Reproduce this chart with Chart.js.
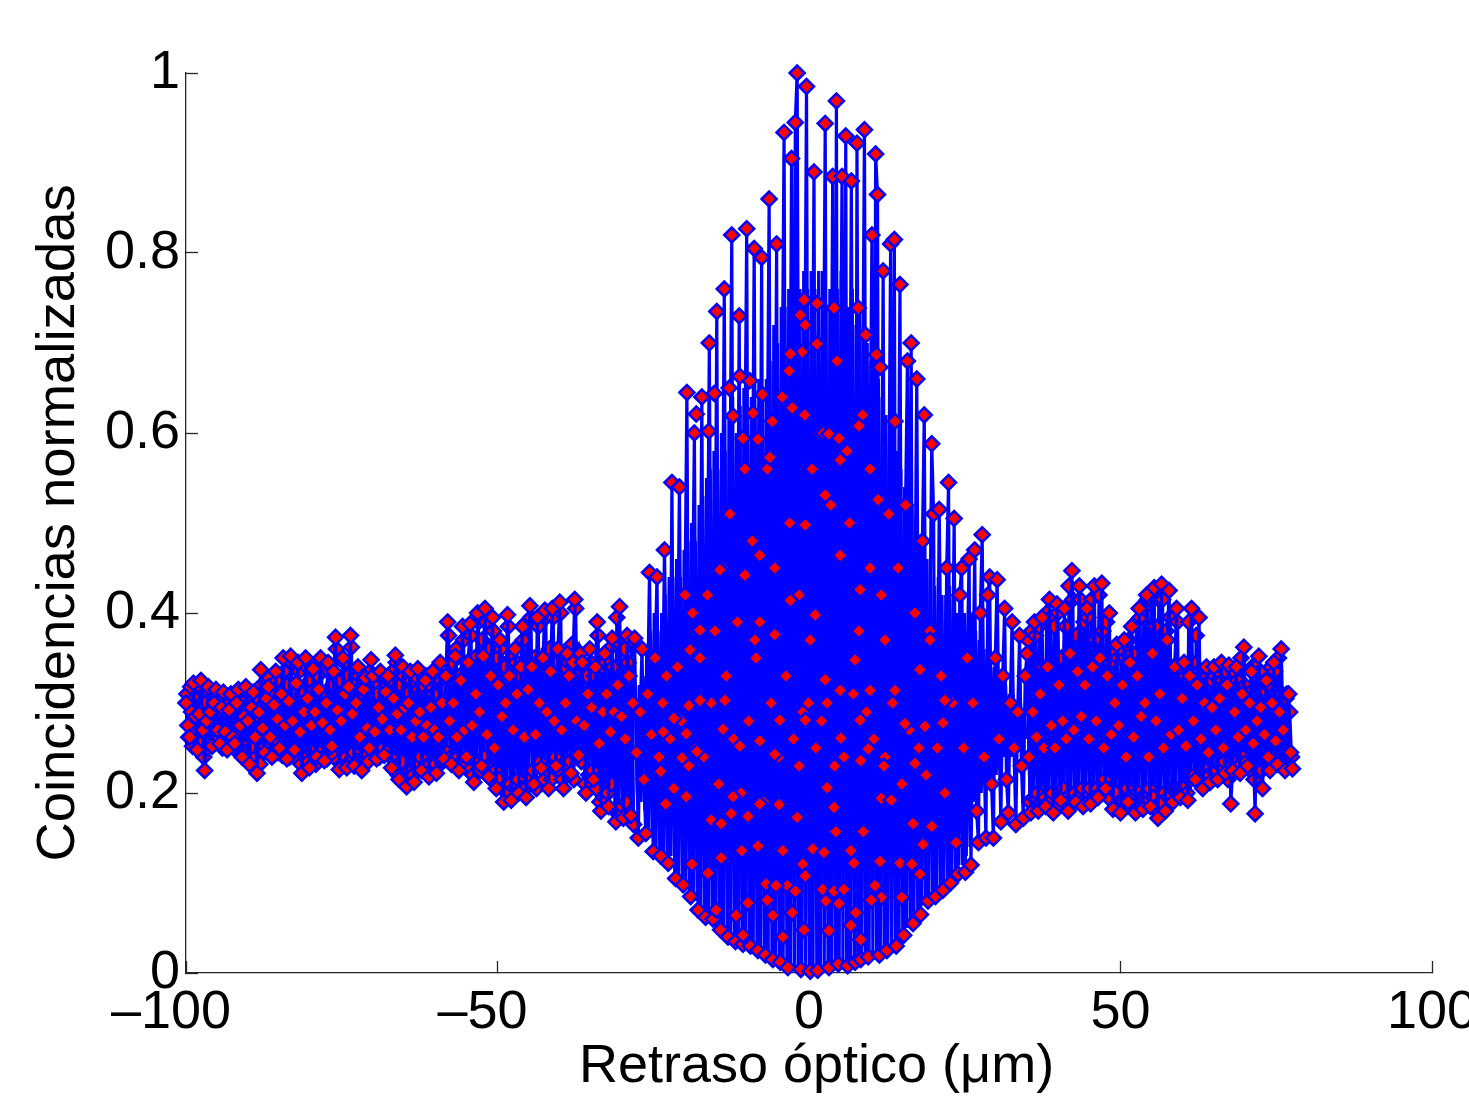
<!DOCTYPE html>
<html>
<head>
<meta charset="utf-8">
<title>Coincidencias</title>
<script src="https://cdn.jsdelivr.net/npm/chart.js@4/dist/chart.umd.min.js"></script>
<style>
  html, body { margin: 0; padding: 0; background: #fff; }
  canvas { display: block; }
</style>
</head>
<body>
<canvas id="myChart" width="1469" height="1115"></canvas>
<script>
// Retraso óptico (um)
const retraso = [
-100,-99.7,-99.4,-99.1,-98.8,-98.5,-98.2,-97.9,-97.6,-97.3,
-97,-96.7,-96.4,-96.1,-95.8,-95.5,-95.2,-94.9,-94.6,-94.3,
-94,-93.7,-93.4,-93.1,-92.8,-92.5,-92.2,-91.9,-91.6,-91.3,
-91,-90.7,-90.4,-90.1,-89.8,-89.5,-89.2,-88.9,-88.6,-88.3,
-88,-87.7,-87.4,-87.1,-86.8,-86.5,-86.2,-85.9,-85.6,-85.3,
-85,-84.7,-84.4,-84.1,-83.8,-83.5,-83.2,-82.9,-82.6,-82.3,
-82,-81.7,-81.4,-81.1,-80.8,-80.5,-80.2,-79.9,-79.6,-79.3,
-79,-78.7,-78.4,-78.1,-77.8,-77.5,-77.2,-76.9,-76.6,-76.3,
-76,-75.7,-75.4,-75.1,-74.8,-74.5,-74.2,-73.9,-73.6,-73.3,
-73,-72.7,-72.4,-72.1,-71.8,-71.5,-71.2,-70.9,-70.6,-70.3,
-70,-69.7,-69.4,-69.1,-68.8,-68.5,-68.2,-67.9,-67.6,-67.3,
-67,-66.7,-66.4,-66.1,-65.8,-65.5,-65.2,-64.9,-64.6,-64.3,
-64,-63.7,-63.4,-63.1,-62.8,-62.5,-62.2,-61.9,-61.6,-61.3,
-61,-60.7,-60.4,-60.1,-59.8,-59.5,-59.2,-58.9,-58.6,-58.3,
-58,-57.7,-57.4,-57.1,-56.8,-56.5,-56.2,-55.9,-55.6,-55.3,
-55,-54.7,-54.4,-54.1,-53.8,-53.5,-53.2,-52.9,-52.6,-52.3,
-52,-51.7,-51.4,-51.1,-50.8,-50.5,-50.2,-49.9,-49.6,-49.3,
-49,-48.7,-48.4,-48.1,-47.8,-47.5,-47.2,-46.9,-46.6,-46.3,
-46,-45.7,-45.4,-45.1,-44.8,-44.5,-44.2,-43.9,-43.6,-43.3,
-43,-42.7,-42.4,-42.1,-41.8,-41.5,-41.2,-40.9,-40.6,-40.3,
-40,-39.7,-39.4,-39.1,-38.8,-38.5,-38.2,-37.9,-37.6,-37.3,
-37,-36.7,-36.4,-36.1,-35.8,-35.5,-35.2,-34.9,-34.6,-34.3,
-34,-33.7,-33.4,-33.1,-32.8,-32.5,-32.2,-31.9,-31.6,-31.3,
-31,-30.7,-30.4,-30.1,-29.8,-29.5,-29.2,-28.9,-28.6,-28.3,
-28,-27.7,-27.4,-27.1,-26.8,-26.5,-26.2,-25.9,-25.6,-25.3,
-25,-24.7,-24.4,-24.1,-23.8,-23.5,-23.2,-22.9,-22.6,-22.3,
-22,-21.7,-21.4,-21.1,-20.8,-20.5,-20.2,-19.9,-19.6,-19.3,
-19,-18.7,-18.4,-18.1,-17.8,-17.5,-17.2,-16.9,-16.6,-16.3,
-16,-15.7,-15.4,-15.1,-14.8,-14.5,-14.2,-13.9,-13.6,-13.3,
-13,-12.7,-12.4,-12.1,-11.8,-11.5,-11.2,-10.9,-10.6,-10.3,
-10,-9.7,-9.4,-9.1,-8.8,-8.5,-8.2,-7.9,-7.6,-7.3,
-7,-6.7,-6.4,-6.1,-5.8,-5.5,-5.2,-4.9,-4.6,-4.3,
-4,-3.7,-3.4,-3.1,-2.8,-2.5,-2.2,-1.9,-1.6,-1.3,
-1,-0.7,-0.4,-0.1,0.2,0.5,0.8,1.1,1.4,1.7,
2,2.3,2.6,2.9,3.2,3.5,3.8,4.1,4.4,4.7,
5,5.3,5.6,5.9,6.2,6.5,6.8,7.1,7.4,7.7,
8,8.3,8.6,8.9,9.2,9.5,9.8,10.1,10.4,10.7,
11,11.3,11.6,11.9,12.2,12.5,12.8,13.1,13.4,13.7,
14,14.3,14.6,14.9,15.2,15.5,15.8,16.1,16.4,16.7,
17,17.3,17.6,17.9,18.2,18.5,18.8,19.1,19.4,19.7,
20,20.3,20.6,20.9,21.2,21.5,21.8,22.1,22.4,22.7,
23,23.3,23.6,23.9,24.2,24.5,24.8,25.1,25.4,25.7,
26,26.3,26.6,26.9,27.2,27.5,27.8,28.1,28.4,28.7,
29,29.3,29.6,29.9,30.2,30.5,30.8,31.1,31.4,31.7,
32,32.3,32.6,32.9,33.2,33.5,33.8,34.1,34.4,34.7,
35,35.3,35.6,35.9,36.2,36.5,36.8,37.1,37.4,37.7,
38,38.3,38.6,38.9,39.2,39.5,39.8,40.1,40.4,40.7,
41,41.3,41.6,41.9,42.2,42.5,42.8,43.1,43.4,43.7,
44,44.3,44.6,44.9,45.2,45.5,45.8,46.1,46.4,46.7,
47,47.3,47.6,47.9,48.2,48.5,48.8,49.1,49.4,49.7,
50,50.3,50.6,50.9,51.2,51.5,51.8,52.1,52.4,52.7,
53,53.3,53.6,53.9,54.2,54.5,54.8,55.1,55.4,55.7,
56,56.3,56.6,56.9,57.2,57.5,57.8,58.1,58.4,58.7,
59,59.3,59.6,59.9,60.2,60.5,60.8,61.1,61.4,61.7,
62,62.3,62.6,62.9,63.2,63.5,63.8,64.1,64.4,64.7,
65,65.3,65.6,65.9,66.2,66.5,66.8,67.1,67.4,67.7,
68,68.3,68.6,68.9,69.2,69.5,69.8,70.1,70.4,70.7,
71,71.3,71.6,71.9,72.2,72.5,72.8,73.1,73.4,73.7,
74,74.3,74.6,74.9,75.2,75.5,75.8,76.1,76.4,76.7,
77,77.3,77.6
];

// Coincidencias normalizadas, estimadas a ojo
const coincidencias = [
.300,.275,.262,.290,.322,.285,.248,.288,.325,.270,
.225,.280,.318,.290,.252,.300,.315,.270,.255,.295,
.312,.268,.248,.292,.310,.262,.255,.300,.315,.275,
.240,.285,.318,.280,.232,.295,.312,.262,.222,.290,
.337,.272,.245,.305,.318,.262,.240,.298,.335,.282,
.250,.310,.350,.275,.238,.302,.352,.280,.248,.322,
.345,.268,.222,.290,.350,.305,.228,.275,.338,.290,
.240,.315,.350,.278,.236,.300,.345,.270,.252,.335,
.373,.292,.226,.280,.350,.310,.228,.318,.375,.288,
.230,.300,.340,.262,.225,.315,.328,.272,.250,.348,
.330,.268,.238,.295,.335,.282,.242,.312,.330,.270,
.228,.305,.353,.288,.215,.270,.340,.295,.207,.300,
.335,.262,.212,.280,.338,.290,.225,.262,.325,.275,
.218,.295,.335,.270,.222,.262,.345,.300,.238,.330,
.390,.280,.232,.300,.352,.262,.225,.325,.385,.270,
.240,.345,.388,.275,.212,.310,.400,.290,.230,.352,
.405,.265,.218,.330,.395,.250,.205,.320,.370,.285,
.190,.300,.398,.330,.192,.270,.360,.310,.200,.340,
.385,.262,.195,.315,.408,.340,.210,.265,.395,.300,
.228,.350,.403,.290,.205,.335,.405,.280,.230,.360,
.412,.270,.205,.300,.355,.330,.222,.345,.415,.280,
.242,.355,.345,.275,.200,.310,.360,.295,.215,.340,
.390,.255,.180,.290,.355,.310,.185,.268,.372,.290,
.168,.320,.407,.285,.172,.260,.375,.330,.175,.300,
.372,.245,.150,.290,.360,.215,.155,.310,.445,.265,
.135,.350,.440,.240,.130,.300,.470,.330,.122,.260,
.545,.205,.105,.340,.540,.280,.098,.420,.645,.230,
.085,.400,.600,.250,.070,.350,.640,.240,.062,.420,
.700,.300,.060,.380,.735,.210,.048,.450,.760,.330,
.040,.510,.820,.260,.035,.390,.730,.200,.032,.560,
.827,.280,.030,.480,.805,.350,.025,.390,.795,.190,
.020,.560,.860,.300,.015,.450,.810,.240,.012,.640,
.934,.330,.006,.500,.905,.260,.945,1.000,.420,.004,
.290,.620,.985,.300,.002,.560,.890,.250,.003,.600,
.280,.600,.944,.300,.006,.520,.885,.230,.969,.010,
.570,.885,.240,.930,.008,.500,.880,.310,.012,.922,
.380,.015,.620,.937,.290,.018,.560,.820,.260,.910,
.865,.020,.420,.780,.240,.025,.510,.810,.300,.815,
.030,.450,.765,.210,.042,.520,.680,.270,.700,.055,
.400,.660,.250,.065,.480,.620,.220,.080,.380,.588,
.510,.085,.250,.515,.330,.092,.200,.450,.545,.100,
.300,.505,.145,.110,.420,.450,.250,.112,.350,.460,
.120,.300,.470,.180,.145,.400,.487,.240,.150,.420,
.440,.210,.150,.350,.437,.260,.168,.330,.405,.215,
.178,.300,.390,.250,.165,.290,.375,.230,.172,.330,
.355,.240,.178,.290,.390,.262,.180,.310,.395,.250,
.185,.340,.415,.275,.178,.250,.410,.320,.192,.280,
.405,.260,.180,.355,.447,.270,.190,.335,.430,.285,
.185,.320,.405,.260,.188,.340,.430,.280,.195,.350,
.433,.250,.205,.330,.400,.265,.182,.300,.365,.275,
.178,.320,.370,.240,.190,.345,.385,.262,.178,.330,
.405,.285,.182,.300,.420,.240,.185,.355,.428,.280,
.172,.310,.432,.250,.180,.370,.425,.265,.190,.340,
.405,.270,.195,.305,.345,.252,.192,.330,.405,.280,
.215,.320,.395,.260,.205,.300,.340,.245,.212,.295,
.340,.270,.215,.305,.345,.250,.222,.320,.342,.188,
.225,.290,.340,.262,.222,.310,.362,.270,.230,.300,
.335,.255,.177,.280,.352,.295,.205,.265,.325,.240,
.225,.300,.345,.258,.232,.290,.360,.270,.225,.310,
.310,.245,.227
];

// Lado izquierdo, muestras intermedias
const retrasoIzq = [
-99.85,-99.55,-99.25,-98.95,-98.65,-98.35,-98.05,-97.75,-97.45,-97.15,
-96.85,-96.55,-96.25,-95.95,-95.65,-95.35,-95.05,-94.75,-94.45,-94.15,
-93.85,-93.55,-93.25,-92.95,-92.65,-92.35,-92.05,-91.75,-91.45,-91.15,
-90.85,-90.55,-90.25,-89.95,-89.65,-89.35,-89.05,-88.75,-88.45,-88.15,
-87.85,-87.55,-87.25,-86.95,-86.65,-86.35,-86.05,-85.75,-85.45,-85.15,
-84.85,-84.55,-84.25,-83.95,-83.65,-83.35,-83.05,-82.75,-82.45,-82.15,
-81.85,-81.55,-81.25,-80.95,-80.65,-80.35,-80.05,-79.75,-79.45,-79.15,
-78.85,-78.55,-78.25,-77.95,-77.65,-77.35,-77.05,-76.75,-76.45,-76.15,
-75.85,-75.55,-75.25,-74.95,-74.65,-74.35,-74.05,-73.75,-73.45,-73.15,
-72.85,-72.55,-72.25,-71.95,-71.65,-71.35,-71.05,-70.75,-70.45,-70.15,
-69.85,-69.55,-69.25,-68.95,-68.65,-68.35,-68.05,-67.75,-67.45,-67.15,
-66.85,-66.55,-66.25,-65.95,-65.65,-65.35,-65.05,-64.75,-64.45,-64.15,
-63.85,-63.55,-63.25,-62.95,-62.65,-62.35,-62.05,-61.75,-61.45,-61.15,
-60.85,-60.55,-60.25,-59.95,-59.65,-59.35,-59.05,-58.75,-58.45,-58.15,
-57.85,-57.55,-57.25,-56.95,-56.65,-56.35,-56.05,-55.75,-55.45,-55.15,
-54.85,-54.55,-54.25,-53.95,-53.65,-53.35,-53.05,-52.75,-52.45,-52.15,
-51.85,-51.55,-51.25,-50.95,-50.65,-50.35,-50.05,-49.75,-49.45,-49.15,
-48.85,-48.55,-48.25,-47.95,-47.65,-47.35,-47.05,-46.75,-46.45,-46.15,
-45.85,-45.55,-45.25,-44.95,-44.65,-44.35,-44.05,-43.75,-43.45,-43.15,
-42.85,-42.55,-42.25,-41.95,-41.65,-41.35,-41.05,-40.75,-40.45,-40.15,
-39.85,-39.55,-39.25,-38.95,-38.65,-38.35,-38.05,-37.75,-37.45,-37.15,
-36.85,-36.55,-36.25,-35.95,-35.65,-35.35,-35.05,-34.75,-34.45,-34.15,
-33.85,-33.55,-33.25,-32.95,-32.65,-32.35,-32.05,-31.75,-31.45,-31.15,
-30.85,-30.55,-30.25,-29.95,-29.65,-29.35,-29.05,-28.75,-28.45,-28.15
];
const coincidenciasIzq = [
.310,.262,.318,.252,.305,.268,.320,.255,.300,.240,
.300,.250,.312,.258,.295,.262,.308,.260,.290,.250,
.305,.252,.298,.258,.308,.250,.300,.262,.310,.255,
.300,.245,.312,.238,.295,.250,.305,.240,.285,.232,
.320,.250,.300,.248,.328,.245,.312,.258,.325,.245,
.305,.242,.335,.245,.320,.240,.345,.250,.310,.238,
.335,.232,.310,.240,.340,.235,.325,.245,.315,.232,
.330,.245,.342,.240,.305,.238,.335,.250,.320,.240,
.360,.235,.325,.232,.345,.240,.330,.235,.362,.245,
.320,.235,.330,.232,.310,.240,.320,.235,.335,.250,
.322,.245,.310,.240,.328,.250,.318,.245,.325,.240,
.335,.225,.345,.220,.320,.235,.330,.212,.310,.225,
.325,.220,.330,.230,.315,.240,.320,.225,.330,.230,
.320,.225,.310,.232,.335,.240,.325,.235,.315,.245,
.375,.240,.345,.235,.360,.240,.330,.235,.370,.230,
.345,.225,.375,.220,.350,.235,.390,.225,.370,.240,
.390,.230,.360,.215,.380,.225,.350,.215,.360,.205,
.340,.200,.385,.210,.350,.205,.345,.215,.330,.205,
.370,.205,.390,.220,.395,.225,.350,.205,.385,.235,
.350,.215,.395,.225,.360,.215,.395,.240,.345,.225,
.400,.215,.340,.230,.345,.235,.365,.215,.405,.240,
.335,.235,.340,.210,.330,.220,.345,.225,.330,.205,
.375,.190,.340,.195,.345,.200,.360,.210,.340,.180,
.395,.180,.365,.185,.360,.190,.345,.170,.370,.165
];

// Lado derecho, muestras intermedias
const retrasoDer = [
35.15,35.45,35.75,36.05,36.35,36.65,36.95,37.25,37.55,37.85,
38.15,38.45,38.75,39.05,39.35,39.65,39.95,40.25,40.55,40.85,
41.15,41.45,41.75,42.05,42.35,42.65,42.95,43.25,43.55,43.85,
44.15,44.45,44.75,45.05,45.35,45.65,45.95,46.25,46.55,46.85,
47.15,47.45,47.75,48.05,48.35,48.65,48.95,49.25,49.55,49.85,
50.15,50.45,50.75,51.05,51.35,51.65,51.95,52.25,52.55,52.85,
53.15,53.45,53.75,54.05,54.35,54.65,54.95,55.25,55.55,55.85,
56.15,56.45,56.75,57.05,57.35,57.65,57.95,58.25,58.55,58.85,
59.15,59.45,59.75,60.05,60.35,60.65,60.95,61.25,61.55,61.85,
62.15,62.45,62.75,63.05,63.35,63.65,63.95,64.25,64.55,64.85,
65.15,65.45,65.75,66.05,66.35,66.65,66.95,67.25,67.55,67.85,
68.15,68.45,68.75,69.05,69.35,69.65,69.95,70.25,70.55,70.85,
71.15,71.45,71.75,72.05,72.35,72.65,72.95,73.25,73.55,73.85,
74.15,74.45,74.75,75.05,75.35,75.65,75.95,76.25,76.55,76.85,
77.15,77.45
];
const coincidenciasDer = [
.370,.190,.380,.195,.375,.200,.385,.190,.340,.195,
.400,.190,.395,.200,.385,.185,.400,.195,.350,.205,
.385,.195,.430,.190,.415,.200,.375,.195,.415,.205,
.390,.195,.395,.205,.415,.195,.370,.205,.420,.200,
.380,.215,.390,.195,.345,.205,.355,.200,.350,.190,
.360,.190,.350,.205,.370,.195,.355,.185,.390,.200,
.395,.195,.405,.195,.415,.205,.420,.195,.385,.180,
.415,.190,.415,.200,.380,.195,.395,.205,.340,.205,
.390,.205,.335,.205,.330,.200,.390,.215,.345,.220,
.375,.215,.335,.215,.325,.225,.330,.220,.325,.225,
.330,.225,.335,.230,.325,.235,.335,.215,.320,.230,
.335,.235,.325,.230,.350,.240,.320,.235,.310,.225,
.340,.215,.340,.225,.335,.225,.315,.235,.320,.235,
.340,.240,.335,.240,.350,.235,.310,.240,.305,.240,
.290,.240
];

// Zona central: el trazo es tan denso que sus marcadores quedan tapados
const retrasoCentro = [
-27.85,-27.55,-27.25,-26.95,-26.65,-26.35,-26.05,-25.75,-25.45,-25.15,
-24.85,-24.55,-24.25,-23.95,-23.65,-23.35,-23.05,-22.75,-22.45,-22.15,
-21.85,-21.55,-21.25,-20.95,-20.65,-20.35,-20.05,-19.75,-19.45,-19.15,
-18.85,-18.55,-18.25,-17.95,-17.65,-17.35,-17.05,-16.75,-16.45,-16.15,
-15.85,-15.55,-15.25,-14.95,-14.65,-14.35,-14.05,-13.75,-13.45,-13.15,
-12.85,-12.55,-12.25,-11.95,-11.65,-11.35,-11.05,-10.75,-10.45,-10.15,
-9.85,-9.55,-9.25,-8.95,-8.65,-8.35,-8.05,-7.75,-7.45,-7.15,
-6.85,-6.55,-6.25,-5.95,-5.65,-5.35,-5.05,-4.75,-4.45,-4.15,
-3.85,-3.55,-3.25,-2.95,-2.65,-2.35,-2.05,-1.75,-1.45,-1.15,
-0.85,-0.55,-0.25,0.05,0.35,0.65,0.95,1.25,1.55,1.85,
2.15,2.45,2.75,3.05,3.35,3.65,3.95,4.25,4.55,4.85,
5.15,5.45,5.75,6.05,6.35,6.65,6.95,7.25,7.55,7.85,
8.15,8.45,8.75,9.05,9.35,9.65,9.95,10.25,10.55,10.85,
11.15,11.45,11.75,12.05,12.35,12.65,12.95,13.25,13.55,13.85,
14.15,14.45,14.75,15.05,15.35,15.65,15.95,16.25,16.55,16.85,
17.15,17.45,17.75,18.05,18.35,18.65,18.95,19.25,19.55,19.85,
20.15,20.45,20.75,21.05,21.35,21.65,21.95,22.25,22.55,22.85,
23.15,23.45,23.75,24.05,24.35,24.65,24.95,25.25,25.55,25.85,
26.15,26.45,26.75,27.05,27.35,27.65,27.95,28.25,28.55,28.85,
29.15,29.45,29.75,30.05,30.35,30.65,30.95,31.25,31.55,31.85,
32.15,32.45,32.75,33.05,33.35,33.65,33.95,34.25,34.55,34.85
];
const coincidenciasCentro = [
.30,.20,.32,.19,.33,.18,.36,.16,.38,.15,
.40,.14,.38,.13,.40,.13,.42,.12,.44,.13,
.44,.11,.46,.11,.44,.10,.47,.10,.48,.09,
.50,.09,.48,.08,.52,.07,.53,.07,.55,.06,
.56,.06,.58,.05,.56,.05,.60,.05,.58,.04,
.62,.04,.64,.04,.60,.03,.63,.03,.65,.03,
.62,.03,.64,.03,.62,.02,.66,.02,.64,.02,
.66,.02,.68,.02,.72,.01,.70,.01,.74,.01,
.74,.01,.76,.01,.74,.005,.78,.005,.76,.005,
.78,.005,.76,.003,.78,.003,.76,.005,.78,.005,
.78,.005,.74,.008,.76,.008,.78,.01,.76,.01,
.78,.01,.76,.01,.74,.012,.76,.012,.72,.015,
.74,.015,.72,.02,.70,.02,.68,.02,.70,.025,
.66,.025,.64,.025,.62,.03,.62,.03,.60,.03,
.58,.035,.56,.04,.54,.05,.55,.05,.52,.06,
.50,.07,.48,.075,.46,.08,.46,.085,.44,.09,
.43,.09,.44,.095,.42,.10,.42,.10,.43,.105,
.42,.115,.40,.12,.39,.12,.40,.13,.38,.14,
.40,.19,.38,.20,.37,.20,.36,.21,.36,.21,
.35,.22,.34,.22,.33,.23,.33,.24,.32,.24,
.31,.24,.31,.25,.30,.25,.30,.26,.29,.26
];

// Marcadores sueltos que se ven dentro de la zona azul
const retrasoSueltos = [
-19.3,-21.7,-19.7,-23.4,-20.4,-18,-23.8,-19.7,-23,-12.2,-7.9,-4.8,-12.5,-9.8,-1.9,-15.7,
-14.1,4.3,8.7,16.7,19.7,-8.2,-10.8,-4.2,0.6,2.4,6.7,7.2,-14.1,-18.8,-16.2,-1,
-0.6,14.6,16.5,17.8,11.4,18.3,10.6,14.9,11.6,10,-6.9,-3.5,-5.3,-2.2,2.2,4,
5.6,-9.8,-6.7,2.7,4.8,7.5,-5.8,-2.7,-14.9,-11.7,-10.6,-0.8,3.2,6.7,8.3,-4.2,
2.9,4,5.1,9.5,8.3,12,17,18.6,15.4,21.5,-1.6,-11.1,-7.9,-5.5,-13.8,11.6,13.2,
-2.7,8,3.2,4.8,6.1,1.3,-1.1,4.5,-3,-3.2,-0.8,1.3,4,7.9,-1.4,-0.6,10.8,11.4,9.1,
13.8,-9,-8.2,-10.6,-5.9,-12.2,-6.3,-7.5,-9.5,-11.1,-12.8,-15.2,-16.1,-18.1,
2.6,-0.6,-3,0.2,8.2,9.8,11.1,-7.9,-10.3,-14.3,-17.5,-19.1,-8.7,-5.5,1,5,2.6,7.4,
12.2,13.8,9.8,5,-4.7,-0.6,-13.5,-17.5,8.2,17.8,21.8,19.4
];
const coincidenciasSueltos = [
.297,.283,.266,.268,.239,.246,.224,.196,.188,.196,.188,.187,.177,.174,.173,.170,
.166,.157,.157,.166,.163,.141,.136,.136,.138,.134,.136,.122,.128,.121,.111,.121,
.108,.122,.121,.110,.124,.143,.097,.084,.084,.081,.099,.097,.097,.091,.093,.091,
.093,.078,.081,.080,.077,.067,.064,.067,.070,.064,.042,.048,.047,.053,.037,.040,
.206,.184,.261,.249,.236,.230,.233,.274,.277,.278,.230,.252,.258,.243,.271,.194,.192,
.628,.608,.599,.594,.580,.699,.690,.680,.688,.669,.748,.744,.739,.739,.731,.720,.687,.673,.709,
.613,.622,.593,.594,.613,.619,.573,.643,.658,.663,.650,.644,.602,.621,
.531,.498,.414,.370,.426,.450,.526,.464,.442,.448,.381,.359,.370,.376,.398,.464,.326,.348,
.370,.314,.314,.314,.281,.281,.303,.303,.281,.337,.303,.370
];

const xTicks = [-100, -50, 0, 50, 100];
const yTicks = [0, 0.2, 0.4, 0.6, 0.8, 1];

const tickFont = { family: '"Liberation Sans", Arial, sans-serif', size: 54 };
const axisColor = '#262626';
const azul = '#0000ff';
const rojo = '#ff0000';

const trazo = { borderColor: azul, borderWidth: 3.2, tension: 0, clip: false };
const marcador = {
    pointStyle: 'rectRot',
    pointRadius: 7.5,
    pointBorderWidth: 2.5,
    pointBorderColor: azul,
    pointBackgroundColor: rojo
};

function puntos(xs, ys) {
    return xs.map((x, i) => ({ x: x, y: ys[i] }));
}

// quita el margen que Chart.js reserva para las etiquetas de los extremos
function sinRelleno(s) {
    s.paddingLeft = 0;
    s.paddingRight = 0;
    s.paddingTop = 0;
    s.paddingBottom = 0;
}

const ctx = document.getElementById('myChart').getContext('2d');
new Chart(ctx, {
    type: 'line',
    data: {
        datasets: [
            // el primer dataset se pinta encima de los demas
            { data: puntos(retrasoSueltos, coincidenciasSueltos), showLine: false, ...marcador, clip: false },
            { data: puntos(retraso, coincidencias), ...trazo, ...marcador },
            { data: puntos(retrasoIzq, coincidenciasIzq), ...trazo, ...marcador },
            { data: puntos(retrasoDer, coincidenciasDer), ...trazo, ...marcador },
            { data: puntos(retrasoCentro, coincidenciasCentro), ...trazo, pointRadius: 0 }
        ]
    },
    options: {
        responsive: false,
        animation: false,
        layout: { padding: { top: 73, right: 37 } },
        plugins: {
            legend: { display: false },
            tooltip: { enabled: false }
        },
        scales: {
            x: {
                type: 'linear',
                min: -100,
                max: 100,
                afterFit: s => { s.height = 142; sinRelleno(s); },
                afterBuildTicks: s => { s.ticks = xTicks.map(v => ({ value: v })); },
                border: { color: axisColor, width: 1.3 },
                grid: { drawOnChartArea: false, tickLength: -12, tickColor: axisColor, tickWidth: 1.3 },
                ticks: {
                    color: '#000',
                    font: tickFont,
                    padding: 20,
                    maxRotation: 0,
                    autoSkip: false,
                    // en el original el numero queda centrado, no el guion
                    callback: v => v < 0 ? '–' + (-v) + '\u00A0\u00A0' : String(v)
                },
                title: {
                    display: true,
                    text: '\u00A0Retraso óptico (μm)',
                    color: '#000',
                    font: tickFont,
                    padding: { top: 0, bottom: 15 }
                }
            },
            y: {
                type: 'linear',
                min: 0,
                max: 1,
                afterFit: s => { s.width = 186; sinRelleno(s); },
                afterBuildTicks: s => { s.ticks = yTicks.map(v => ({ value: v })); },
                border: { color: axisColor, width: 1.3 },
                grid: { drawOnChartArea: false, tickLength: -12, tickColor: axisColor, tickWidth: 1.3 },
                ticks: {
                    color: '#000',
                    font: tickFont,
                    padding: 18,
                    autoSkip: false,
                    callback: v => String(v)
                },
                title: {
                    display: true,
                    text: 'Coincidencias normalizadas',
                    color: '#000',
                    font: { family: tickFont.family, size: 54.4 },
                    padding: { top: 26, bottom: 0 }
                }
            }
        }
    }
});
</script>
</body>
</html>
